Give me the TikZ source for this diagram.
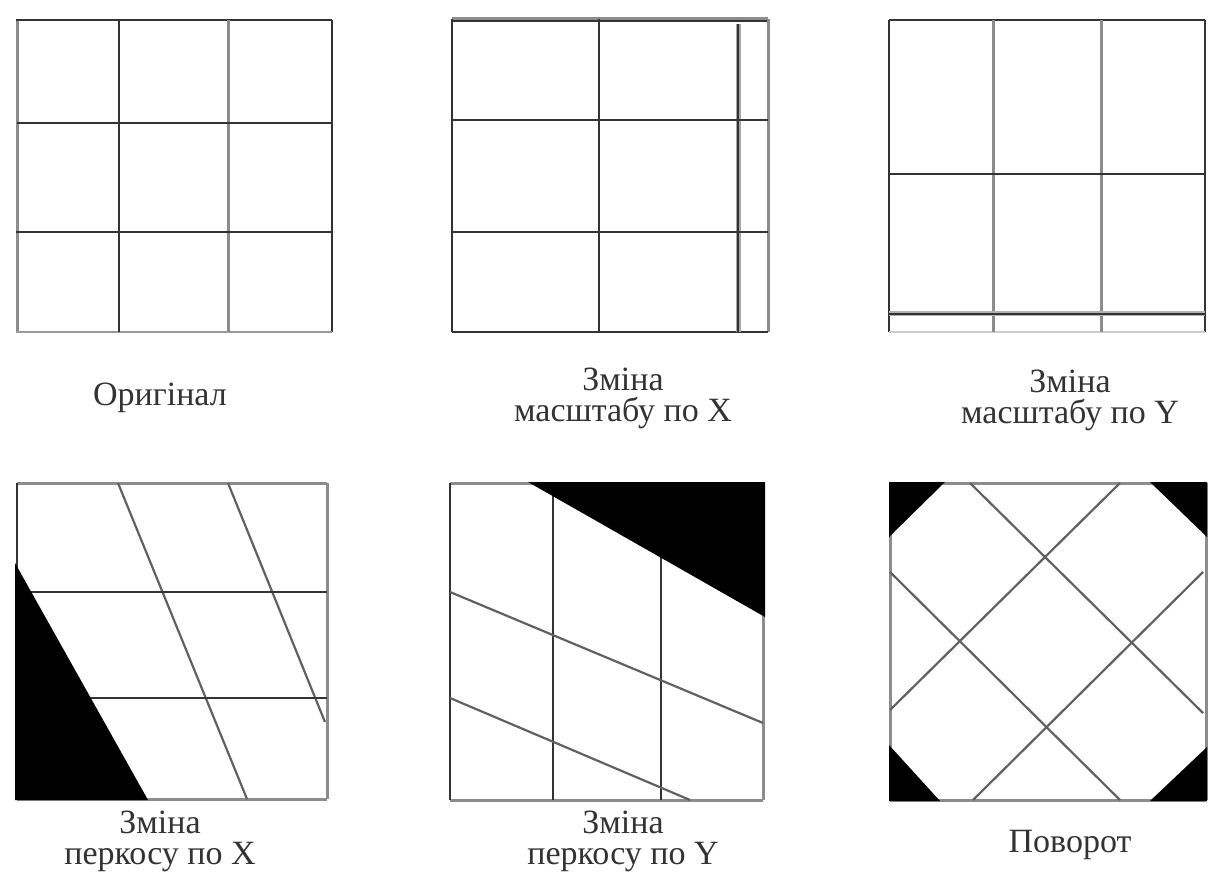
\documentclass[tikz,border=0pt]{standalone}
\usepackage{fontspec}
\setmainfont{Liberation Serif}
\begin{document}
\begin{tikzpicture}[x=1pt,y=-1pt,
  dk/.style={draw=black!80, line width=2.4pt},
  lt/.style={draw=black!45, line width=3pt},
  thin lt/.style={draw=black!40, line width=1.8pt},
  diag/.style={draw=black!62, line width=2.2pt},
  blk/.style={fill=black, draw=none},
  lbl/.style={font=\fontsize{34}{31}\selectfont, text=black!80, align=center, inner sep=0pt}]
\useasboundingbox[fill=white] (0,0) rectangle (1213,885);

% ---------- Panel 1: original ----------
\draw[lt] (17,20) -- (17,332);
\draw[dk] (16,20) -- (332,20);
\draw[dk] (332,20) -- (332,332);
\draw[thin lt] (16,332) -- (332,332);
\draw[dk] (119,20) -- (119,332);
\draw[lt] (228,20) -- (228,332);
\draw[dk] (17,123) -- (332,123);
\draw[dk] (16,232) -- (332,232);
\node[lbl] (l1) at (160,398) {Оригінал};

% ---------- Panel 2: scale X ----------
\draw[lt] (452,19) -- (768,19);
\draw[dk] (452,21) -- (768,21);
\draw[dk] (452,19) -- (452,332);
\draw[lt] (768,19) -- (768,332);
\draw[dk] (452,332) -- (768,332);
\draw[dk] (599,19) -- (599,332);
\draw[draw=black!35, line width=5pt] (738,24) -- (738,332);
\draw[dk] (738,24) -- (738,332);
\draw[dk] (452,120) -- (768,120);
\draw[dk] (452,232) -- (768,232);
\node[lbl] (l2) at (623,398) {Зміна\\масштабу по X};

% ---------- Panel 3: scale Y ----------
\draw[dk] (889,20) -- (889,332);
\draw[dk] (889,20) -- (1205,20);
\draw[dk] (1205,20) -- (1205,332);
\draw[draw=black!20, line width=1.2pt] (889,332) -- (1205,332);
\draw[lt] (993,20) -- (993,332);
\draw[lt] (1101,20) -- (1101,332);
\draw[dk] (889,174) -- (1205,174);
\draw[draw=black!30, line width=5pt] (889,314) -- (1205,314);
\draw[dk] (889,314) -- (1205,314);
\node[lbl] (l3) at (1070,400) {Зміна\\масштабу по Y};

% ---------- Panel 4: shear X ----------
\draw[lt] (17,483) -- (327,483);
\draw[lt] (17,799) -- (327,799);
\draw[lt] (327,483) -- (327,799);
\draw[dk] (17,483) -- (17,799);
\draw[diag] (118,483) -- (247,799);
\draw[diag] (228,483) -- (325,722);
\draw[dk] (17,592) -- (327,592);
\draw[dk] (17,698) -- (327,698);
\fill[blk] (15,563) -- (15,800) -- (148,800) -- cycle;
\node[lbl] (l4) at (160,841) {Зміна\\перкосу по X};

% ---------- Panel 5: shear Y ----------
\draw[lt] (450,483) -- (763,483);
\draw[lt] (450,800) -- (763,800);
\draw[lt] (763,483) -- (763,800);
\draw[dk] (450,483) -- (450,800);
\draw[dk] (553,483) -- (553,800);
\draw[dk] (661,483) -- (661,800);
\draw[diag] (450,592) -- (763,723);
\draw[diag] (450,698) -- (690,800);
\fill[blk] (528,482) -- (765,482) -- (765,617) -- cycle;
\node[lbl] (l5) at (623,841) {Зміна\\перкосу по Y};

% ---------- Panel 6: rotation ----------
\draw[lt] (890,483) -- (1206,483);
\draw[lt] (890,800) -- (1206,800);
\draw[lt] (890,483) -- (890,800);
\draw[lt] (1206,483) -- (1206,800);
\draw[diag] (970,483) -- (1203,713);
\draw[diag] (890,572) -- (1120,800);
\draw[diag] (1120,483) -- (890,710);
\draw[diag] (1203,572) -- (973,800);
\fill[blk] (889,482) -- (945,482) -- (889,537) -- cycle;
\fill[blk] (1150,482) -- (1207,482) -- (1207,537) -- cycle;
\fill[blk] (889,745) -- (889,801) -- (940,801) -- cycle;
\fill[blk] (1207,747) -- (1207,801) -- (1150,801) -- cycle;
\node[lbl] (l6) at (1070,845) {Поворот};
\end{tikzpicture}
\end{document}
